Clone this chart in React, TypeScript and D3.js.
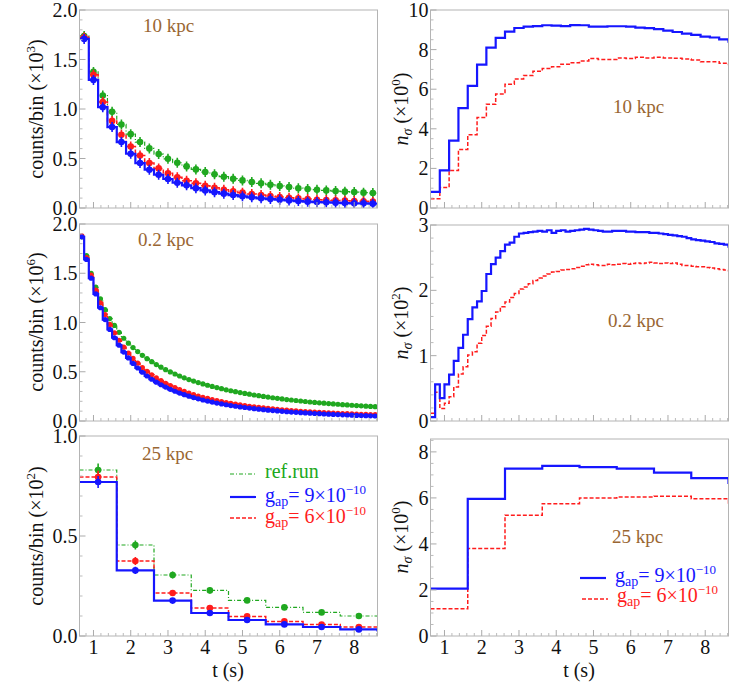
import React from "react";
import * as d3 from "d3";

const W = 747;
const H = 684;
const T0 = 0.625; // left edge of the time axis (s)
const T1 = 8.625;

const BLUE = "#1616ff";
const RED = "#ff1c1c";
const GREEN = "#20a820";
const BROWN = "#996633";
const FONT = "Liberation Serif, DejaVu Serif, Noto Serif, Tinos, Times New Roman, Times, serif";

// ---- 10 kpc, counts/bin (x10^3), 0.25 s bins
const cnt10Ref = [1.738, 1.375, 1.136, 0.971, 0.844, 0.746, 0.666, 0.602, 0.545, 0.497, 0.457, 0.42, 0.39, 0.363, 0.34, 0.316, 0.296, 0.279, 0.262, 0.249, 0.235, 0.222, 0.212, 0.2, 0.192, 0.185, 0.178, 0.171, 0.165, 0.161, 0.155, 0.151];
const cnt10G9 = [1.708, 1.294, 1.018, 0.817, 0.666, 0.548, 0.454, 0.387, 0.336, 0.293, 0.255, 0.229, 0.2, 0.178, 0.16, 0.145, 0.131, 0.118, 0.108, 0.098, 0.09, 0.084, 0.077, 0.07, 0.064, 0.06, 0.057, 0.054, 0.05, 0.047, 0.047, 0.044];
const cnt10G6 = [1.724, 1.345, 1.07, 0.88, 0.74, 0.62, 0.53, 0.454, 0.4, 0.35, 0.31, 0.276, 0.249, 0.225, 0.205, 0.185, 0.168, 0.155, 0.141, 0.131, 0.121, 0.111, 0.104, 0.097, 0.091, 0.084, 0.081, 0.077, 0.074, 0.07, 0.067, 0.064];

// ---- 0.2 kpc, counts/bin (x10^6), 0.125 s bins
const cnt02Ref = [1.87, 1.68, 1.5, 1.36, 1.24, 1.13, 1.04, 0.97, 0.9, 0.84, 0.79, 0.745, 0.705, 0.667, 0.633, 0.602, 0.573, 0.546, 0.521, 0.498, 0.477, 0.457, 0.438, 0.421, 0.405, 0.39, 0.376, 0.363, 0.351, 0.339, 0.328, 0.317, 0.307, 0.298, 0.289, 0.28, 0.272, 0.264, 0.257, 0.25, 0.243, 0.236, 0.23, 0.224, 0.218, 0.213, 0.208, 0.203, 0.198, 0.193, 0.189, 0.185, 0.181, 0.177, 0.173, 0.17, 0.166, 0.163, 0.16, 0.157, 0.154, 0.151, 0.148, 0.145];
const cnt02G9 = [1.87, 1.64, 1.45, 1.29, 1.15, 1.03, 0.93, 0.845, 0.77, 0.7, 0.64, 0.585, 0.538, 0.495, 0.457, 0.424, 0.394, 0.368, 0.344, 0.322, 0.302, 0.284, 0.267, 0.252, 0.238, 0.225, 0.213, 0.202, 0.192, 0.182, 0.173, 0.165, 0.157, 0.15, 0.143, 0.137, 0.131, 0.125, 0.12, 0.115, 0.11, 0.106, 0.102, 0.098, 0.094, 0.091, 0.088, 0.085, 0.082, 0.079, 0.076, 0.074, 0.071, 0.069, 0.067, 0.065, 0.063, 0.061, 0.059, 0.057, 0.056, 0.054, 0.053, 0.051];
const cnt02G6 = [1.88, 1.66, 1.48, 1.33, 1.2, 1.08, 0.98, 0.895, 0.82, 0.75, 0.69, 0.635, 0.587, 0.543, 0.504, 0.469, 0.437, 0.409, 0.383, 0.36, 0.338, 0.318, 0.3, 0.283, 0.268, 0.254, 0.241, 0.229, 0.218, 0.207, 0.197, 0.188, 0.179, 0.171, 0.164, 0.157, 0.15, 0.144, 0.138, 0.133, 0.128, 0.123, 0.118, 0.114, 0.11, 0.106, 0.102, 0.099, 0.096, 0.093, 0.09, 0.087, 0.085, 0.082, 0.08, 0.078, 0.076, 0.074, 0.072, 0.07, 0.068, 0.067, 0.065, 0.064];

// ---- 25 kpc, counts/bin (x10^2), 1 s bins (last entry = next bin, clipped)
const cnt25Ref = [0.83, 0.455, 0.305, 0.228, 0.178, 0.143, 0.118, 0.1, 0.085];
const cnt25G9 = [0.77, 0.328, 0.177, 0.115, 0.08, 0.058, 0.045, 0.033, 0.028];
const cnt25G6 = [0.795, 0.375, 0.215, 0.14, 0.098, 0.073, 0.057, 0.045, 0.04];
const err25Ref = [0.032, 0.022, 0.018, 0.015, 0.012, 0.011, 0.01, 0.009, 0.009];
const err25G9 = [0.03, 0.018, 0.013, 0.01, 0.009, 0.008, 0.007, 0.006, 0.006];
const err25G6 = [0.031, 0.02, 0.015, 0.012, 0.01, 0.008, 0.007, 0.006, 0.006];

// ---- significance n_sigma
const sig10G9 = [0.81, 1.9, 3.4, 5.04, 6.17, 7.24, 8.1, 8.59, 8.91, 9.09, 9.16, 9.19, 9.23, 9.21, 9.19, 9.24, 9.23, 9.16, 9.16, 9.18, 9.18, 9.16, 9.11, 9.08, 9.03, 8.96, 8.89, 8.81, 8.74, 8.66, 8.61, 8.52, 8.4];
const sig10G6 = [0.47, 1.04, 1.9, 2.96, 3.7, 4.57, 5.24, 5.76, 6.25, 6.52, 6.69, 6.91, 7.04, 7.14, 7.26, 7.34, 7.43, 7.55, 7.5, 7.5, 7.58, 7.55, 7.61, 7.58, 7.61, 7.58, 7.56, 7.53, 7.48, 7.39, 7.39, 7.31, 7.25];
const sig02G9 = [0.06, 0.56, 0.35, 0.56, 0.71, 0.92, 1.12, 1.32, 1.56, 1.74, 1.83, 1.99, 2.25, 2.4, 2.5, 2.6, 2.7, 2.73, 2.82, 2.87, 2.88, 2.89, 2.9, 2.91, 2.9, 2.92, 2.88, 2.91, 2.92, 2.9, 2.91, 2.92, 2.93, 2.94, 2.93, 2.92, 2.91, 2.9, 2.9, 2.91, 2.91, 2.91, 2.9, 2.9, 2.89, 2.89, 2.89, 2.88, 2.88, 2.87, 2.86, 2.85, 2.84, 2.83, 2.82, 2.8, 2.78, 2.77, 2.76, 2.75, 2.74, 2.72, 2.71, 2.7, 2.67];
const sig02G6 = [0.12, 0.44, 0.19, 0.27, 0.37, 0.52, 0.72, 0.83, 1.01, 1.06, 1.19, 1.31, 1.45, 1.57, 1.67, 1.75, 1.82, 1.89, 1.95, 2.02, 2.05, 2.1, 2.15, 2.19, 2.22, 2.25, 2.28, 2.29, 2.31, 2.32, 2.33, 2.35, 2.37, 2.39, 2.4, 2.39, 2.38, 2.38, 2.4, 2.39, 2.4, 2.41, 2.4, 2.41, 2.42, 2.41, 2.42, 2.43, 2.42, 2.41, 2.42, 2.41, 2.42, 2.4, 2.38, 2.38, 2.37, 2.36, 2.36, 2.35, 2.34, 2.33, 2.32, 2.31, 2.3];
const sig25G9 = [2.06, 5.96, 7.27, 7.39, 7.34, 7.27, 7.1, 6.86, 6.65];
const sig25G6 = [1.18, 3.8, 5.25, 5.75, 6.0, 6.04, 6.07, 5.96, 5.78];

const xTicks = [1, 2, 3, 4, 5, 6, 7, 8];

type Series = {
  values: number[];
  bin: number;
  color: string;
  width: number;
  dash?: string;
  points?: boolean;
  r?: number;
  err?: number[];
  bar?: number;
};

type PanelProps = {
  id: string;
  x0: number;
  x1: number;
  y0: number;
  y1: number;
  yMax: number;
  yMajor: number[];
  yMinorStep: number;
  fmt: (v: number) => string;
  series: Series[];
  xLabels?: boolean;
};

const Panel = ({ id, x0, x1, y0, y1, yMax, yMajor, yMinorStep, fmt, series, xLabels }: PanelProps) => {
  const x = d3.scaleLinear().domain([T0, T1]).range([x0, x1]);
  const y = d3.scaleLinear().domain([0, yMax]).range([y1, y0]);
  const xMinor = d3.range(0.8, T1, 0.2).filter((t) => Math.abs(t - Math.round(t)) > 0.01);
  const yMinor = d3.range(0, yMax + 1e-6, yMinorStep).filter((v) => !yMajor.some((m) => Math.abs(m - v) < 1e-6));
  const step = d3
    .line<[number, number]>()
    .x((d) => x(d[0]))
    .y((d) => y(d[1]))
    .curve(d3.curveStepAfter);

  return (
    <g>
      <defs>
        <clipPath id={id}>
          <rect x={x0} y={y0} width={x1 - x0} height={y1 - y0} />
        </clipPath>
      </defs>
      <g clipPath={`url(#${id})`}>
        {series.map((s, k) => {
          const pts: [number, number][] = s.values.map((v, i) => [T0 + i * s.bin, v]);
          pts.push([T0 + s.values.length * s.bin, s.values[s.values.length - 1]]);
          return (
            <g key={k}>
              <path d={step(pts) || ""} fill="none" stroke={s.color} strokeWidth={s.width} strokeDasharray={s.dash} />
              {s.points &&
                s.values.map((v, i) => {
                  const cx = x(T0 + (i + 0.5) * s.bin);
                  const cy = y(v);
                  const e = s.err ? Math.abs(y(v + s.err[i]) - cy) : s.bar || 0;
                  return (
                    <g key={i}>
                      {e > 0 && <line x1={cx} x2={cx} y1={cy - e} y2={cy + e} stroke={s.color} strokeWidth={1.6} />}
                      <circle cx={cx} cy={cy} r={s.r || 3.3} fill={s.color} />
                    </g>
                  );
                })}
            </g>
          );
        })}
      </g>
      <rect x={x0} y={y0} width={x1 - x0} height={y1 - y0} fill="none" stroke="#b4b4b4" strokeWidth={1} />
      {xTicks.map((t) => (
        <line key={"xm" + t} x1={x(t)} x2={x(t)} y1={y1} y2={y1 - 6} stroke="#aaa" />
      ))}
      {xMinor.map((t, i) => (
        <line key={"xn" + i} x1={x(t)} x2={x(t)} y1={y1} y2={y1 - 3} stroke="#bbb" />
      ))}
      {yMajor.map((v) => (
        <line key={"ym" + v} x1={x0} x2={x0 + 6} y1={y(v)} y2={y(v)} stroke="#aaa" />
      ))}
      {yMinor.map((v, i) => (
        <line key={"yn" + i} x1={x0} x2={x0 + 3} y1={y(v)} y2={y(v)} stroke="#bbb" />
      ))}
      {yMajor.map((v) => (
        <text key={"yl" + v} x={x0 - 2} y={y(v)} dy="0.35em" textAnchor="end" fontSize={20} style={{ fontFamily: FONT }} fill="#111">
          {fmt(v)}
        </text>
      ))}
      {xLabels &&
        xTicks.map((t) => (
          <text key={"xl" + t} x={x(t)} y={y1 + 18} textAnchor="middle" fontSize={20} style={{ fontFamily: FONT }} fill="#111">
            {t}
          </text>
        ))}
    </g>
  );
};

const Kpc = ({ x, y, text }: { x: number; y: number; text: string }) => (
  <text x={x} y={y} fontSize={19} style={{ fontFamily: FONT }} fill={BROWN}>
    {text}
  </text>
);

const CountsLabel = ({ cy, exp }: { cy: number; exp: string }) => (
  <text transform={`translate(43,${cy}) rotate(-90)`} textAnchor="middle" fontSize={20} style={{ fontFamily: FONT }} fill="#111">
    counts/bin (×10
    <tspan fontSize={13} dy={-8}>
      {exp}
    </tspan>
    <tspan dy={8}>)</tspan>
  </text>
);

const SigmaLabel = ({ cy, exp }: { cy: number; exp: string }) => (
  <text transform={`translate(408,${cy}) rotate(-90)`} textAnchor="middle" fontSize={20} style={{ fontFamily: FONT }} fill="#111">
    <tspan fontStyle="italic">n</tspan>
    <tspan fontStyle="italic" fontSize={14} dy={4}>
      σ
    </tspan>
    <tspan dy={-4}> (×10</tspan>
    <tspan fontSize={13} dy={-8}>
      {exp}
    </tspan>
    <tspan dy={8}>)</tspan>
  </text>
);

const GapText = ({ x, y, color, val }: { x: number; y: number; color: string; val: string }) => (
  <text x={x} y={y} fontSize={20} style={{ fontFamily: FONT }} fill={color}>
    g
    <tspan fontSize={14} dy={4}>
      ap
    </tspan>
    <tspan dy={-4}>= {val}×10</tspan>
    <tspan fontSize={13} dy={-8}>
      −10
    </tspan>
  </text>
);

const L = { x0: 79.5, x1: 377.5 };
const R = { x0: 430.5, x1: 728.5 };

export default function App() {
  const fmt1 = d3.format(".1f");
  const fmt0 = d3.format("d");
  return (
    <svg width={W} height={H} style={{ position: "absolute", left: 0, top: 0, background: "#fff" }}>
      {/* left column: counts */}
      <Panel
        id="c10"
        {...L}
        y0={10}
        y1={208}
        yMax={2}
        yMajor={[0, 0.5, 1, 1.5, 2]}
        yMinorStep={0.1}
        fmt={fmt1}
        series={[
          { values: cnt10Ref, bin: 0.25, color: GREEN, width: 1.2, dash: "4,2,1,2", points: true, bar: 5 },
          { values: cnt10G6, bin: 0.25, color: RED, width: 1.5, dash: "4,2", points: true, bar: 5 },
          { values: cnt10G9, bin: 0.25, color: BLUE, width: 2.2, points: true, bar: 5 },
        ]}
      />
      <Panel
        id="c02"
        {...L}
        y0={224}
        y1={421}
        yMax={2}
        yMajor={[0, 0.5, 1, 1.5, 2]}
        yMinorStep={0.1}
        fmt={fmt1}
        series={[
          { values: cnt02Ref, bin: 0.125, color: GREEN, width: 1.2, dash: "4,2,1,2", points: true, r: 2.6 },
          { values: cnt02G6, bin: 0.125, color: RED, width: 1.5, dash: "4,2", points: true, r: 2.6 },
          { values: cnt02G9, bin: 0.125, color: BLUE, width: 2.2, points: true, r: 2.6 },
        ]}
      />
      <Panel
        id="c25"
        {...L}
        y0={436}
        y1={636}
        yMax={1}
        yMajor={[0, 0.5, 1]}
        yMinorStep={0.1}
        fmt={fmt1}
        xLabels
        series={[
          { values: cnt25Ref, bin: 1, color: GREEN, width: 1.2, dash: "4,2,1,2", points: true, err: err25Ref },
          { values: cnt25G6, bin: 1, color: RED, width: 1.5, dash: "4,2", points: true, err: err25G6 },
          { values: cnt25G9, bin: 1, color: BLUE, width: 2.2, points: true, err: err25G9 },
        ]}
      />
      {/* right column: significance */}
      <Panel
        id="s10"
        {...R}
        y0={10}
        y1={208}
        yMax={10}
        yMajor={[0, 2, 4, 6, 8, 10]}
        yMinorStep={0.5}
        fmt={fmt0}
        series={[
          { values: sig10G6, bin: 0.25, color: RED, width: 1.5, dash: "4,2" },
          { values: sig10G9, bin: 0.25, color: BLUE, width: 2.2 },
        ]}
      />
      <Panel
        id="s02"
        {...R}
        y0={225}
        y1={421}
        yMax={3}
        yMajor={[0, 1, 2, 3]}
        yMinorStep={0.2}
        fmt={fmt0}
        series={[
          { values: sig02G6, bin: 0.125, color: RED, width: 1.5, dash: "4,2" },
          { values: sig02G9, bin: 0.125, color: BLUE, width: 2.2 },
        ]}
      />
      <Panel
        id="s25"
        {...R}
        y0={439}
        y1={636}
        yMax={8.56}
        yMajor={[0, 2, 4, 6, 8]}
        yMinorStep={0.5}
        fmt={fmt0}
        xLabels
        series={[
          { values: sig25G6, bin: 1, color: RED, width: 1.5, dash: "4,2" },
          { values: sig25G9, bin: 1, color: BLUE, width: 2.2 },
        ]}
      />

      <CountsLabel cy={109} exp="3" />
      <CountsLabel cy={322} exp="6" />
      <CountsLabel cy={536} exp="2" />
      <SigmaLabel cy={109} exp="0" />
      <SigmaLabel cy={323} exp="2" />
      <SigmaLabel cy={537} exp="0" />

      <Kpc x={143} y={32} text="10 kpc" />
      <Kpc x={138} y={246} text="0.2 kpc" />
      <Kpc x={142} y={460} text="25 kpc" />
      <Kpc x={613} y={113} text="10 kpc" />
      <Kpc x={608} y={327} text="0.2 kpc" />
      <Kpc x={612} y={543} text="25 kpc" />

      {/* legend, bottom-left */}
      <line x1={230} x2={256} y1={474} y2={474} stroke={GREEN} strokeWidth={1.2} strokeDasharray="4,2,1,2" />
      <text x={265} y={478} fontSize={20} style={{ fontFamily: FONT }} fill={GREEN}>
        ref.run
      </text>
      <line x1={230} x2={256} y1={497} y2={497} stroke={BLUE} strokeWidth={2.2} />
      <GapText x={265} y={502} color={BLUE} val="9" />
      <line x1={230} x2={256} y1={518} y2={518} stroke={RED} strokeWidth={1.5} strokeDasharray="4,2" />
      <GapText x={265} y={523} color={RED} val="6" />

      {/* legend, bottom-right */}
      <line x1={580} x2={606} y1={578} y2={578} stroke={BLUE} strokeWidth={2.2} />
      <GapText x={615} y={582} color={BLUE} val="9" />
      <line x1={582} x2={608} y1={599} y2={599} stroke={RED} strokeWidth={1.5} strokeDasharray="4,2" />
      <GapText x={617} y={602} color={RED} val="6" />

      <text x={228} y={677} textAnchor="middle" fontSize={20} style={{ fontFamily: FONT }} fill="#111">
        t (s)
      </text>
      <text x={579} y={677} textAnchor="middle" fontSize={20} style={{ fontFamily: FONT }} fill="#111">
        t (s)
      </text>
    </svg>
  );
}
